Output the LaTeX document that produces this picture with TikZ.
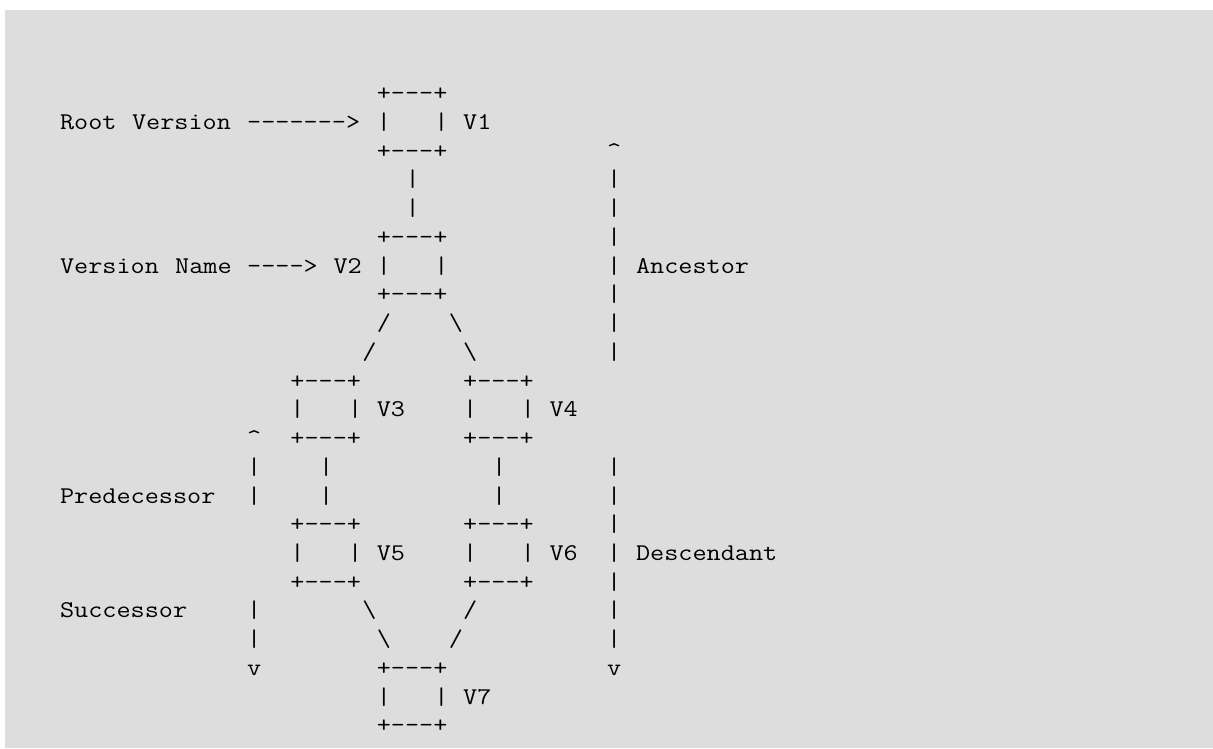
\documentclass[tikz,border=0pt]{standalone}
\usepackage{fontspec}
\newfontfamily\asciifont{Latin Modern Mono}[FakeStretch=1.142857]
\definecolor{bggray}{HTML}{DDDDDD}
\tikzset{ascii/.style={anchor=base west, inner sep=0pt, outer sep=0pt, font=\asciifont\fontsize{24pt}{29pt}\selectfont, text=black}}
\newcommand\A[4]{\node[ascii] (#1) at ({(60+#2*14.4)*1pt},{-(129.5+(#3-2)*28.73)*1pt}) {#4};}
\begin{document}
\begin{tikzpicture}
\useasboundingbox (0,0) rectangle (1213pt,-748pt);
\fill[bggray] (5pt,-10pt) rectangle (1213pt,-748pt);
% line 1
\A{v1t}{22}{1}{+---+}
% line 2
\A{rootA}{0}{2}{Root}
\A{rootB}{5}{2}{Version}
\A{rootArrow}{13}{2}{------->}
\A{v1l}{22}{2}{|}
\A{v1r}{26}{2}{|}
\A{v1lab}{28}{2}{V1}
% line 3
\A{v1b}{22}{3}{+---+}
\A{ancUp}{38}{3}{\textasciicircum}
% line 4-5
\A{e12a}{24}{4}{|}
\A{anc4}{38}{4}{|}
\A{e12b}{24}{5}{|}
\A{anc5}{38}{5}{|}
% line 6
\A{v2t}{22}{6}{+---+}
\A{anc6}{38}{6}{|}
% line 7
\A{vnA}{0}{7}{Version}
\A{vnB}{8}{7}{Name}
\A{vnArrow}{13}{7}{---->}
\A{v2lab}{19}{7}{V2}
\A{v2l}{22}{7}{|}
\A{v2r}{26}{7}{|}
\A{anc7}{38}{7}{|}
\A{anclab}{40}{7}{Ancestor}
% line 8
\A{v2b}{22}{8}{+---+}
\A{anc8}{38}{8}{|}
% line 9
\A{e23a}{22}{9}{/}
\A{e24a}{27}{9}{\textbackslash}
\A{anc9}{38}{9}{|}
% line 10
\A{e23b}{21}{10}{/}
\A{e24b}{28}{10}{\textbackslash}
\A{anc10}{38}{10}{|}
% line 11
\A{v3t}{16}{11}{+---+}
\A{v4t}{28}{11}{+---+}
% line 12
\A{v3l}{16}{12}{|}
\A{v3r}{20}{12}{|}
\A{v3lab}{22}{12}{V3}
\A{v4l}{28}{12}{|}
\A{v4r}{32}{12}{|}
\A{v4lab}{34}{12}{V4}
% line 13
\A{preUp}{13}{13}{\textasciicircum}
\A{v3b}{16}{13}{+---+}
\A{v4b}{28}{13}{+---+}
% line 14
\A{pre14}{13}{14}{|}
\A{e35a}{18}{14}{|}
\A{e46a}{30}{14}{|}
\A{des14}{38}{14}{|}
% line 15
\A{prelab}{0}{15}{Predecessor}
\A{pre15}{13}{15}{|}
\A{e35b}{18}{15}{|}
\A{e46b}{30}{15}{|}
\A{des15}{38}{15}{|}
% line 16
\A{v5t}{16}{16}{+---+}
\A{v6t}{28}{16}{+---+}
\A{des16}{38}{16}{|}
% line 17
\A{v5l}{16}{17}{|}
\A{v5r}{20}{17}{|}
\A{v5lab}{22}{17}{V5}
\A{v6l}{28}{17}{|}
\A{v6r}{32}{17}{|}
\A{v6lab}{34}{17}{V6}
\A{des17}{38}{17}{|}
\A{deslab}{40}{17}{Descendant}
% line 18
\A{v5b}{16}{18}{+---+}
\A{v6b}{28}{18}{+---+}
\A{des18}{38}{18}{|}
% line 19
\A{suclab}{0}{19}{Successor}
\A{suc19}{13}{19}{|}
\A{e57a}{21}{19}{\textbackslash}
\A{e67a}{28}{19}{/}
\A{des19}{38}{19}{|}
% line 20
\A{suc20}{13}{20}{|}
\A{e57b}{22}{20}{\textbackslash}
\A{e67b}{27}{20}{/}
\A{des20}{38}{20}{|}
% line 21
\A{sucDown}{13}{21}{v}
\A{v7t}{22}{21}{+---+}
\A{desDown}{38}{21}{v}
% line 22
\A{v7l}{22}{22}{|}
\A{v7r}{26}{22}{|}
\A{v7lab}{28}{22}{V7}
% line 23
\A{v7b}{22}{23}{+---+}
\end{tikzpicture}
\end{document}
